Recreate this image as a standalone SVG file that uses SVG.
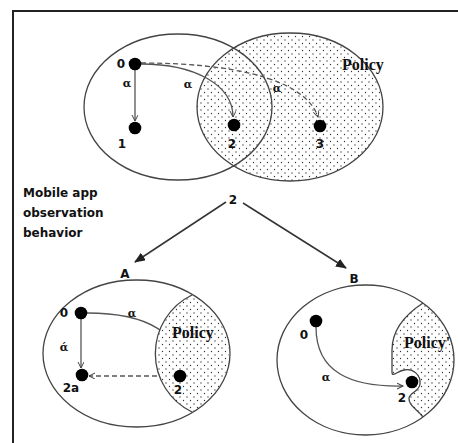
<svg xmlns="http://www.w3.org/2000/svg" width="458" height="443" viewBox="0 0 458 443">
<defs>
<style>
.ell{fill:none;stroke:#444;stroke-width:1.3}
.dot{fill:url(#dots)}
.node{fill:#000}
.lbl{font-family:"DejaVu Sans",Verdana,sans-serif;font-weight:bold;font-size:12px;fill:#111}
.al{font-family:"DejaVu Serif","Liberation Serif",serif;font-weight:bold;font-size:11px;fill:#111}
.pol{font-family:"Liberation Serif","Times New Roman",serif;font-weight:bold;font-size:16px;fill:#111}
.edge{fill:none;stroke:#555;stroke-width:1.3}
.dash{stroke-dasharray:5,3}
.big{fill:none;stroke:#333;stroke-width:1.5}
</style>
<pattern id="dots" width="7" height="7" patternUnits="userSpaceOnUse">
<rect width="7" height="7" fill="#fff"/>
<circle cx="1.5" cy="1.5" r="0.65" fill="#333"/>
<circle cx="5" cy="5" r="0.65" fill="#333"/>
</pattern>
<marker id="open" markerWidth="8" markerHeight="8" refX="6" refY="3" orient="auto" markerUnits="userSpaceOnUse">
<path d="M0,0 L6,3 L0,6" fill="none" stroke="#444" stroke-width="1"/>
</marker>
<marker id="solid" markerWidth="12" markerHeight="10" refX="10" refY="4.5" orient="auto" markerUnits="userSpaceOnUse">
<path d="M0,0 L11,4.5 L0,9 z" fill="#222"/>
</marker>
</defs>
<rect width="458" height="443" fill="#fff"/>
<rect x="13" y="11" width="470" height="460" fill="none" stroke="#222" stroke-width="2"/>

<g id="top-sets">
<ellipse class="dot" cx="290" cy="107" rx="93" ry="74"/>
<ellipse class="ell" cx="290" cy="107" rx="93" ry="74"/>
<ellipse class="ell" cx="178" cy="107" rx="94" ry="73"/>
<text class="pol" x="342" y="70">Policy</text>
</g>

<g id="connectors">
<path class="edge" d="M135,70 L135,121" marker-end="url(#open)"/>
<path class="edge" d="M141,64 C195,64 233,85 233,117" marker-end="url(#open)"/>
<path class="edge dash" d="M141,63 C230,63 305,78 318,117" marker-end="url(#open)"/>
<path class="big" d="M226,202 L135,262" marker-end="url(#solid)"/>
<path class="big" d="M243,203 L346,268" marker-end="url(#solid)"/>
<path class="edge" d="M81,319 L81,368" marker-end="url(#open)"/>
<path class="edge" d="M87,313 C150,313 180,335 180,368" marker-end="url(#open)"/>
<path class="edge dash" d="M173,376 L89,376" marker-end="url(#open)"/>
<path class="edge" d="M316,327 C316,372 350,387 403,386" marker-end="url(#open)"/>
</g>

<g id="n0">
<circle class="node" cx="135" cy="64" r="6.3"/>
<text class="lbl" x="121" y="68" text-anchor="middle">0</text>
</g>
<g id="n1">
<circle class="node" cx="135" cy="128" r="6.3"/>
<text class="lbl" x="122" y="148" text-anchor="middle">1</text>
</g>
<g id="n2">
<circle class="node" cx="234" cy="125" r="6.3"/>
<text class="lbl" x="232" y="148" text-anchor="middle">2</text>
</g>
<g id="n3">
<circle class="node" cx="320" cy="126" r="6.3"/>
<text class="lbl" x="320" y="148" text-anchor="middle">3</text>
</g>
<g id="edge-labels-top">
<text class="al" x="127" y="87" text-anchor="middle">α</text>
<text class="al" x="188" y="88" text-anchor="middle">α</text>
<text class="al" x="277" y="92" text-anchor="middle">α</text>
</g>

<g id="caption">
<text class="lbl" x="23" y="197">Mobile app</text>
<text class="lbl" x="23" y="217">observation</text>
<text class="lbl" x="23" y="237">behavior</text>
</g>

<g id="split">
<text class="lbl" x="233" y="204" text-anchor="middle">2</text>
</g>

<g id="setA">
<text class="lbl" x="125" y="278" text-anchor="middle">A</text>
<path class="dot" d="M192,295 A65,65 0 0 0 192,412 A93.5,73.5 0 0 0 192,295 Z"/>
<path class="ell" d="M192,295 A65,65 0 0 0 192,412"/>
<ellipse class="ell" cx="136.5" cy="353.5" rx="93.5" ry="73.5"/>
<text class="pol" x="172" y="338">Policy</text>
</g>
<g id="A0">
<circle class="node" cx="81" cy="313" r="6.3"/>
<text class="lbl" x="64" y="317" text-anchor="middle">0</text>
</g>
<g id="A2a">
<circle class="node" cx="82" cy="375" r="6.3"/>
<text class="lbl" x="71" y="392" text-anchor="middle">2a</text>
</g>
<g id="A2">
<circle class="node" cx="180" cy="376" r="6.3"/>
<text class="lbl" x="178" y="394" text-anchor="middle">2</text>
</g>
<g id="edge-labels-A">
<text class="al" x="132" y="317" text-anchor="middle">α</text>
<text class="al" x="64" y="351" text-anchor="middle">ά</text>
</g>

<g id="setB">
<text class="lbl" x="354" y="283" text-anchor="middle">B</text>
<path class="dot" d="M423,303 C400,318 392,335 392,350 L392,372 C392,378 397,371 404,370 C413,368 421,375 420,384 C419,392 410,392 409,398 C408,405 418,410 423,417 A88.5,75 0 0 0 423,303 Z"/>
<path class="ell" d="M423,303 C400,318 392,335 392,350 L392,372 C392,378 397,371 404,370 C413,368 421,375 420,384 C419,392 410,392 409,398 C408,405 418,410 423,417"/>
<ellipse class="ell" cx="365.5" cy="360" rx="88.5" ry="75"/>
<text class="pol" x="404" y="348">Policy'</text>
</g>
<g id="B0">
<circle class="node" cx="316" cy="321" r="6.3"/>
<text class="lbl" x="304" y="339" text-anchor="middle">0</text>
</g>
<g id="B2">
<circle class="node" cx="412" cy="382" r="6.3"/>
<text class="lbl" x="402" y="402" text-anchor="middle">2</text>
</g>
<g id="edge-labels-B">
<text class="al" x="326" y="381" text-anchor="middle">α</text>
</g>
</svg>
